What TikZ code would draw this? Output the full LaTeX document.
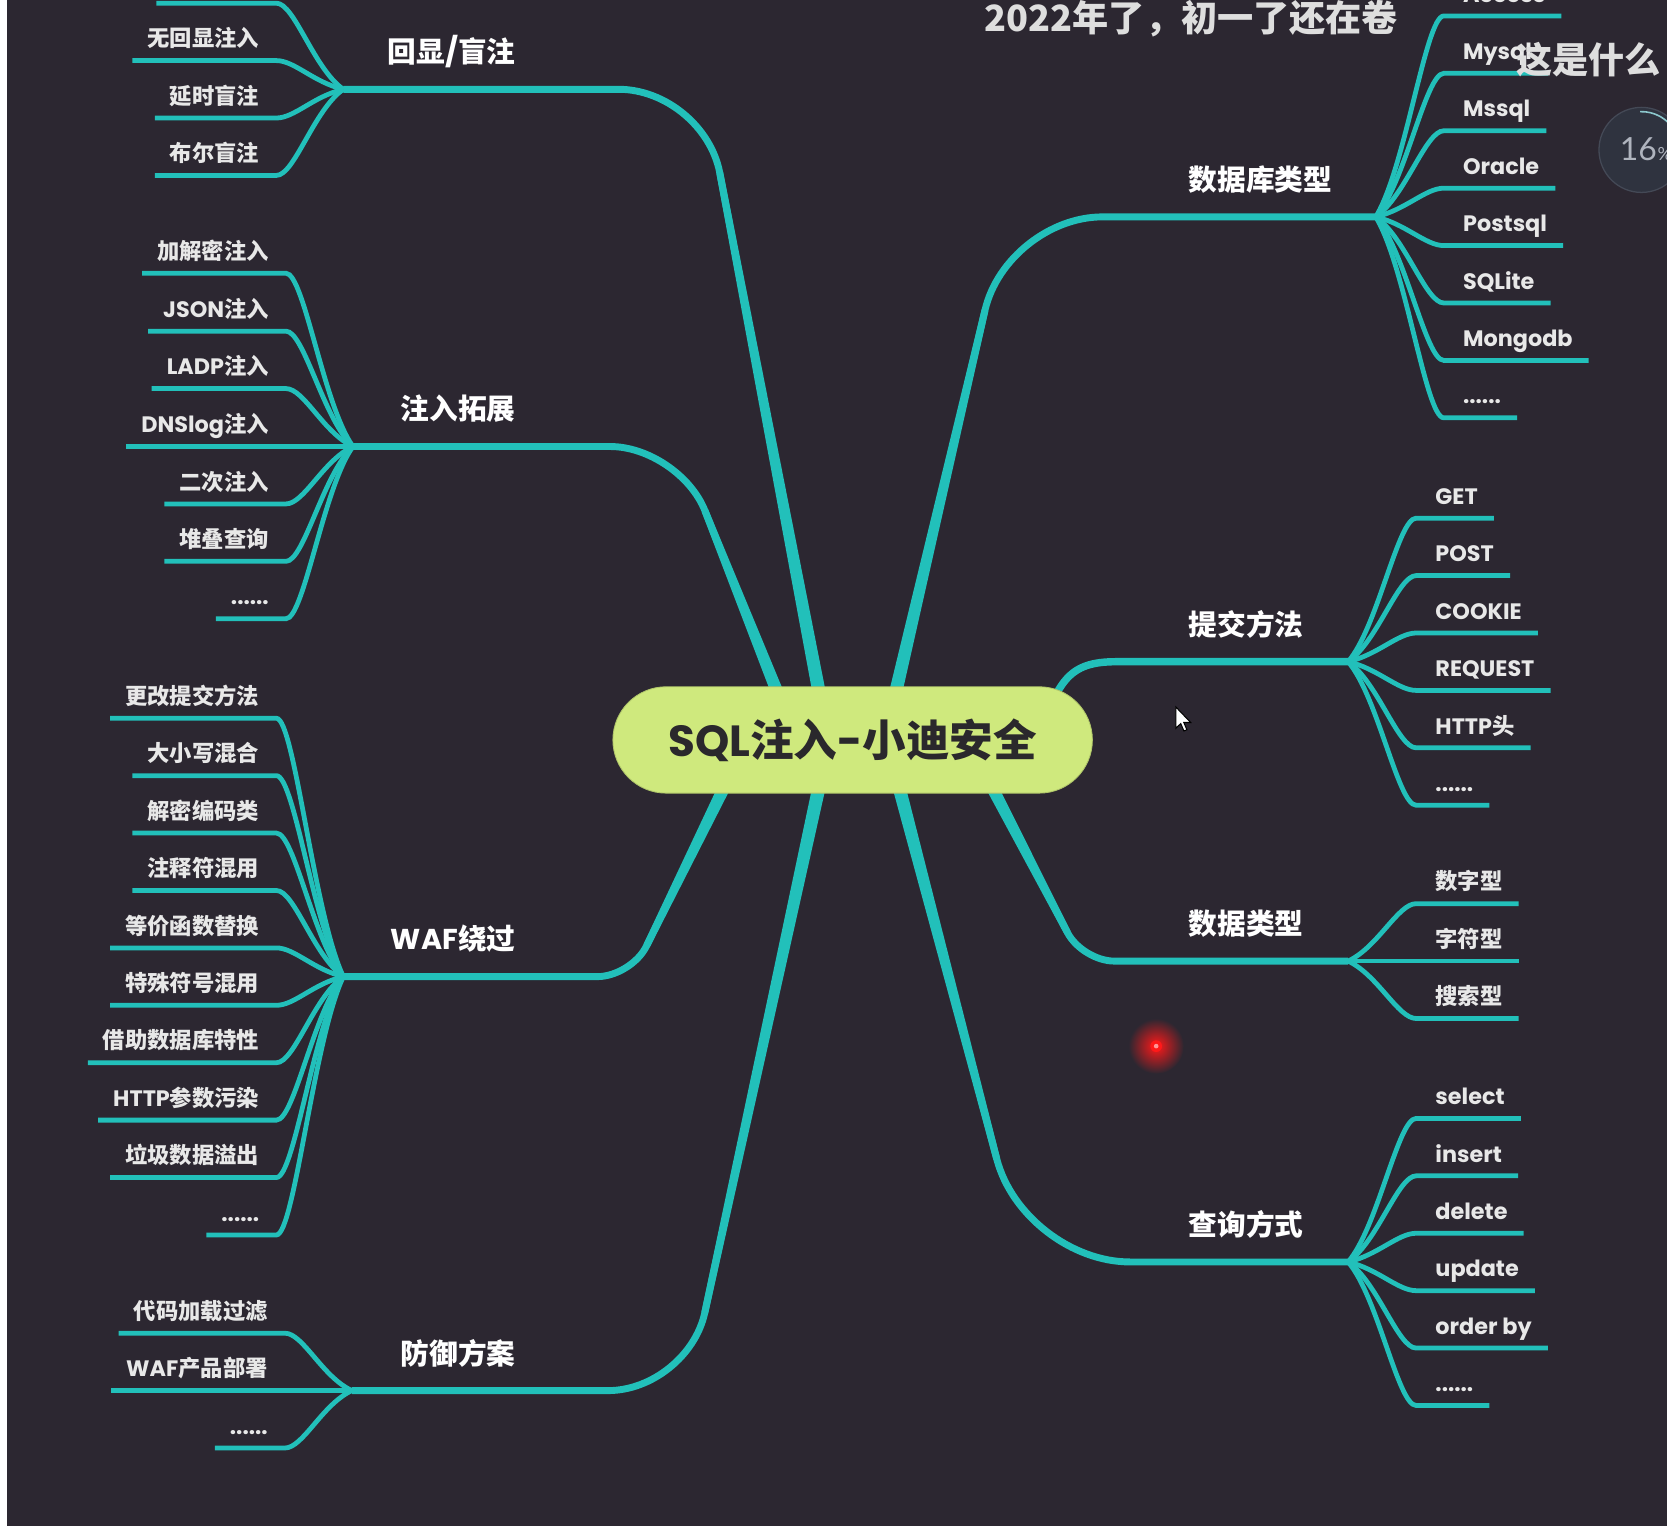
\documentclass[tikz,border=0pt]{standalone}
\usepackage{fontspec}
\setmainfont{Poppins}
\newfontfamily\zh{Noto Sans CJK SC}
\newfontfamily\latofont{Lato}
\usetikzlibrary{calc}
\definecolor{bgc}{RGB}{44,39,49}
\definecolor{branchc}{RGB}{34,192,186}
\definecolor{rootc}{RGB}{207,233,125}
\definecolor{roottext}{RGB}{42,40,44}
\definecolor{leaftext}{RGB}{232,232,232}
\definecolor{subc}{RGB}{222,222,222}
\definecolor{dialfill}{RGB}{47,51,63}
\definecolor{dialrim}{RGB}{68,73,86}
\definecolor{dialtext}{RGB}{175,180,190}
\definecolor{dialarc}{RGB}{140,200,205}
\definecolor{laser}{RGB}{255,25,25}
\definecolor{lasercore}{RGB}{255,150,150}
\newcommand\Z[1]{{\zh #1}}
\tikzset{
  mainline/.style={draw=branchc, line width=6.5pt},
  leafline/.style={draw=branchc, line width=4.5pt},
  leaflabel/.style={inner sep=0pt, text=leaftext, font=\fontsize{21}{21}\selectfont\bfseries},
  mainlabel/.style={inner sep=0pt, text=white, font=\fontsize{27}{27}\selectfont\bfseries},
  subtitle/.style={inner sep=0pt, anchor=base west, font=\zh\fontsize{34}{34}\selectfont\bfseries},
}
% main branch with taper
\newcommand\Branch[2]{%
  \coordinate (B-#1) at ($(K-#1)!#2pt!(C-#1)$);
  \draw[mainline, rounded corners=#2pt] (C-#1) -- (K-#1) -- (J-#1);
  \fill[branchc] ($(C-#1)!6.5pt!90:(B-#1)$) -- ($(B-#1)!3.25pt!-90:(C-#1)$) -- ($(B-#1)!3.25pt!90:(C-#1)$) -- ($(C-#1)!6.5pt!-90:(B-#1)$) -- cycle;
}
% left leaf: #1 junction, #2 id, #3 y, #4 text
\newcommand\LeafL[4]{%
  \node[leaflabel, anchor=base east] (#2) at ({\jx-79},{#3-13}) {#4};
  \coordinate (#2-e) at ({\jx-63},#3);
  \coordinate (#2-w) at ($(#2.west |- #2-e)+(-14,0)$);
  \draw[leafline] (#1) .. controls +(-28,{0.24*(#3-\jy)}) and +(17,0) .. (#2-e) -- (#2-w);
}
% right leaf
\newcommand\LeafR[4]{%
  \node[leaflabel, anchor=base west] (#2) at ({\jx+82},{#3-13}) {#4};
  \coordinate (#2-s) at ({\jx+64},#3);
  \coordinate (#2-f) at ($(#2.east |- #2-s)+(15,0)$);
  \draw[leafline] (#1) .. controls +(28,{0.24*(#3-\jy)}) and +(-17,0) .. (#2-s) -- (#2-f);
}
\begin{document}
\begin{tikzpicture}[x=1pt,y=-1pt]
\useasboundingbox (0,0) rectangle (1568,1437);
\clip (0,0) rectangle (1568,1437);
\fill[bgc] (0,0) rectangle (1568,1437);

% ---------- main branches ----------
\coordinate (J-a) at (323,84);    \coordinate (K-a) at (662,84);    \coordinate (C-a) at (779,696);
\coordinate (J-b) at (332,420);   \coordinate (K-b) at (639,420);   \coordinate (C-b) at (749,696);
\coordinate (J-c) at (1294,204);  \coordinate (K-c) at (947,204);   \coordinate (C-c) at (832,696);
\coordinate (J-e) at (323,918.6); \coordinate (K-e) at (594,918.6); \coordinate (C-e) at (703,696);
\coordinate (J-f) at (331,1308);  \coordinate (K-f) at (647,1308);  \coordinate (C-f) at (780,696);
\coordinate (J-g) at (1268,1187); \coordinate (K-g) at (963,1187);  \coordinate (C-g) at (834,696);
\coordinate (J-h) at (1268,904);  \coordinate (K-h) at (1018,904);  \coordinate (C-h) at (910,696);
\coordinate (J-d) at (1268,622.4);\coordinate (C-d) at (975,700);
\Branch{a}{80}
\Branch{b}{65}
\Branch{c}{90}
\Branch{e}{32}
\Branch{f}{75}
\Branch{g}{100}
\Branch{h}{30}
\draw[branchc, line width=7pt] (C-d) .. controls (995,640) and (1005,622.4) .. (1050,622.4) -- (J-d);

% ---------- root ----------
\node[fill=rootc, draw=rootc!85!black, line width=0.8pt, rounded corners=50pt, minimum width=451pt, minimum height=100pt, inner sep=0pt] (root) at (802,696) {};
\node[font=\fontsize{41}{41}\selectfont\bfseries, text=roottext, anchor=base, inner sep=0pt] (roottext) at (802,711.5) {SQL\Z{注入}-\Z{小迪安全}};

% ---------- main labels ----------
\node[mainlabel, anchor=base east] (L-a) at (485,59) {\Z{回显}/\Z{盲注}};
\node[mainlabel, anchor=base east] (L-b) at (485,395) {\Z{注入拓展}};
\node[mainlabel, anchor=base east] (L-e) at (485,893.5) {WAF\Z{绕过}};
\node[mainlabel, anchor=base east] (L-f) at (485,1283) {\Z{防御方案}};
\node[mainlabel, anchor=base west] (L-c) at (1118,179) {\Z{数据库类型}};
\node[mainlabel, anchor=base west] (L-d) at (1118,598) {\Z{提交方法}};
\node[mainlabel, anchor=base west] (L-h) at (1118,879) {\Z{数据类型}};
\node[mainlabel, anchor=base west] (L-g) at (1118,1162) {\Z{查询方式}};

% ---------- leaves: 回显/盲注 ----------
\def\jx{323}\def\jy{84}
\coordinate (a0-e) at (260,3); \coordinate (a0-w) at (147,3);
\draw[leafline] (J-a) .. controls +(-28,{0.24*(3-84)}) and +(17,0) .. (a0-e) -- (a0-w);
\LeafL{J-a}{a1}{57}{\Z{无回显注入}}
\LeafL{J-a}{a2}{111}{\Z{延时盲注}}
\LeafL{J-a}{a3}{165}{\Z{布尔盲注}}

% ---------- leaves: 注入拓展 ----------
\def\jx{332}\def\jy{420}
\LeafL{J-b}{b1}{257}{\Z{加解密注入}}
\LeafL{J-b}{b2}{311.5}{JSON\Z{注入}}
\LeafL{J-b}{b3}{365.5}{LADP\Z{注入}}
\LeafL{J-b}{b4}{420}{DNSlog\Z{注入}}
\LeafL{J-b}{b5}{474}{\Z{二次注入}}
\LeafL{J-b}{b6}{528}{\Z{堆叠查询}}
\LeafL{J-b}{b7}{582}{......}

% ---------- leaves: WAF绕过 ----------
\def\jx{323}\def\jy{918.6}
\LeafL{J-e}{e1}{675.6}{\Z{更改提交方法}}
\LeafL{J-e}{e2}{729.6}{\Z{大小写混合}}
\LeafL{J-e}{e3}{783.6}{\Z{解密编码类}}
\LeafL{J-e}{e4}{837.6}{\Z{注释符混用}}
\LeafL{J-e}{e5}{891.6}{\Z{等价函数替换}}
\LeafL{J-e}{e6}{945.6}{\Z{特殊符号混用}}
\LeafL{J-e}{e7}{999.6}{\Z{借助数据库特性}}
\LeafL{J-e}{e8}{1053.6}{HTTP\Z{参数污染}}
\LeafL{J-e}{e9}{1107.6}{\Z{垃圾数据溢出}}
\LeafL{J-e}{e10}{1161.6}{......}

% ---------- leaves: 防御方案 ----------
\def\jx{331}\def\jy{1308}
\LeafL{J-f}{f1}{1254}{\Z{代码加载过滤}}
\LeafL{J-f}{f2}{1308}{WAF\Z{产品部署}}
\LeafL{J-f}{f3}{1362}{......}

% ---------- leaves: 数据库类型 ----------
\def\jx{1294}\def\jy{204}
\LeafR{J-c}{c1}{15}{Access}
\LeafR{J-c}{c2}{69}{Mysql}
\LeafR{J-c}{c3}{123}{Mssql}
\LeafR{J-c}{c4}{177}{Oracle}
\LeafR{J-c}{c5}{231}{Postsql}
\LeafR{J-c}{c6}{285}{SQLite}
\LeafR{J-c}{c7}{339}{Mongodb}
\LeafR{J-c}{c8}{393}{......}

% ---------- leaves: 提交方法 ----------
\def\jx{1268}\def\jy{622.4}
\LeafR{J-d}{d1}{487.4}{GET}
\LeafR{J-d}{d2}{541.4}{POST}
\LeafR{J-d}{d3}{595.4}{COOKIE}
\LeafR{J-d}{d4}{649.4}{REQUEST}
\LeafR{J-d}{d5}{703.4}{HTTP\Z{头}}
\LeafR{J-d}{d6}{757.4}{......}

% ---------- leaves: 数据类型 ----------
\def\jx{1268}\def\jy{904}
\LeafR{J-h}{h1}{850}{\Z{数字型}}
\LeafR{J-h}{h2}{904}{\Z{字符型}}
\LeafR{J-h}{h3}{958}{\Z{搜索型}}

% ---------- leaves: 查询方式 ----------
\def\jx{1268}\def\jy{1187}
\LeafR{J-g}{g1}{1052}{select}
\LeafR{J-g}{g2}{1106}{insert}
\LeafR{J-g}{g3}{1160}{delete}
\LeafR{J-g}{g4}{1214}{update}
\LeafR{J-g}{g5}{1268}{order by}
\LeafR{J-g}{g6}{1322}{......}

% ---------- laser dot and cursor ----------
\shade[inner color=laser, outer color=bgc] (1087.5,984) circle (26);
\fill[laser] (1087.5,984) circle (5.5);
\fill[lasercore] (1087.5,984) circle (2.2);
\filldraw[fill=white, draw=black, line width=1pt] (1106,665) -- (1106,685) -- (1110.6,680.6) -- (1113.6,687.6) -- (1116.4,686.4) -- (1113.5,679.6) -- (1120,679.6) -- cycle;

% ---------- dial overlay ----------
\filldraw[fill=dialfill, draw=dialrim, line width=1.2pt] (1544,141) circle (40);
\draw[dialarc, line width=1.5pt] ($(1544,141)+(268:36)$) arc[start angle=268, end angle=330, radius=36];
\node[font=\latofont\fontsize{30}{30}\selectfont, text=dialtext, anchor=base, inner sep=0pt] (dial16) at (1541,151) {16};
\node[font=\latofont\fontsize{17}{17}\selectfont, text=dialtext, anchor=base west, inner sep=0pt] (dialpct) at (1559,151) {\%};

% ---------- subtitle overlays ----------
\node[subtitle, text=subc] (subA) at (926,30) {2022年了，初一了还在卷};
\node[subtitle, text=subc] (subB) at (1426,69) {这是什么};

% ---------- frame strips ----------
\fill[white] (0,0) rectangle (7,1437);
\fill[white] (0,1435.5) rectangle (1568,1437);
\end{tikzpicture}
\end{document}
